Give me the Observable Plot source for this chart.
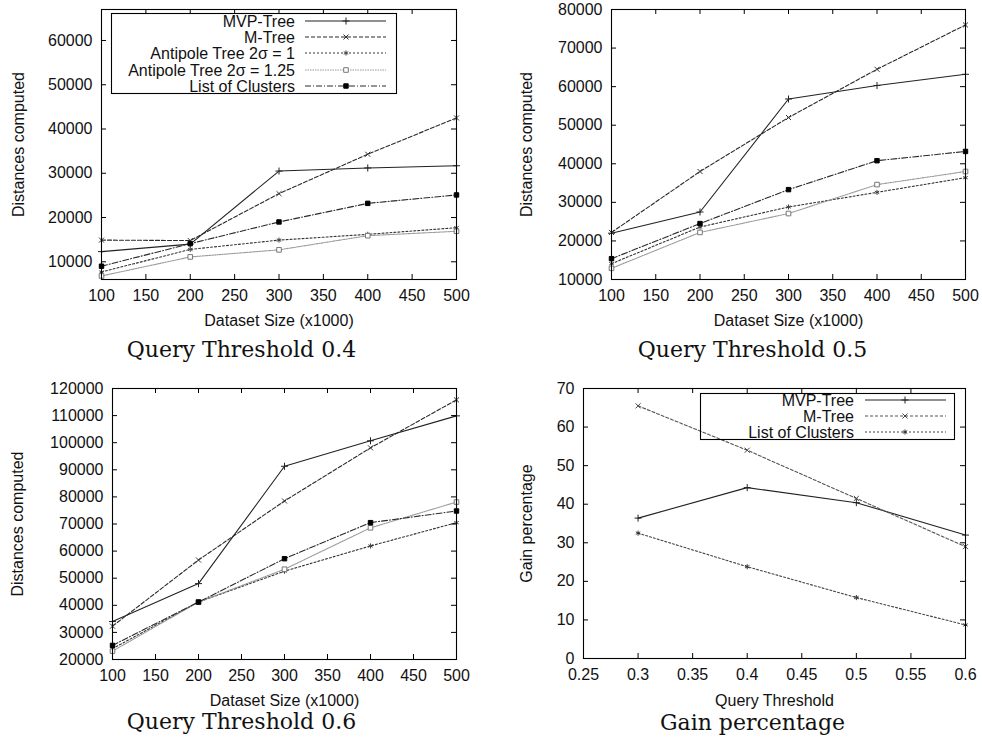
<!DOCTYPE html>
<html><head><meta charset="utf-8">
<script src="https://cdn.jsdelivr.net/npm/d3@7"></script>
<script src="https://cdn.jsdelivr.net/npm/@observablehq/plot@0.6"></script>
<style>
body{margin:0;background:#fff;}
#root{position:relative;width:982px;height:744px;overflow:hidden;background:#fff;font-family:"Liberation Sans",Arial,sans-serif;}
.panel{position:absolute;}
.cap{position:absolute;width:491px;text-align:center;font-family:"DejaVu Serif",serif;font-size:22px;line-height:22px;color:#111;}
.legend{position:absolute;overflow:visible;}
</style></head><body><div id="root"></div>
<script>
// ---------------- data ----------------
const sizes = [100, 200, 300, 400, 500];
const thresholds = [0.3, 0.4, 0.5, 0.6];
const seriesNames = ["MVP-Tree", "M-Tree", "Antipole Tree 2σ = 1", "Antipole Tree 2σ = 1.25", "List of Clusters"];
const gainNames = ["MVP-Tree", "M-Tree", "List of Clusters"];

const q04MVP     = [12300, 14000, 30500, 31200, 31700];
const q04MTree   = [14900, 14800, 25400, 34300, 42500];
const q04Anti1   = [7700, 12800, 14900, 16200, 17700];
const q04Anti125 = [6800, 11100, 12700, 15900, 16900];
const q04LoC     = [9000, 14100, 19000, 23200, 25100];

const q05MVP     = [22000, 27500, 56800, 60300, 63200];
const q05MTree   = [22200, 38000, 52000, 64500, 76000];
const q05Anti1   = [14100, 23600, 28800, 32600, 36400];
const q05Anti125 = [12900, 22200, 27100, 34600, 38000];
const q05LoC     = [15400, 24500, 33300, 40800, 43200];

const q06MVP     = [34000, 48000, 91300, 100700, 109900];
const q06MTree   = [32300, 56700, 78500, 98100, 115800];
const q06Anti1   = [24000, 41200, 52600, 61900, 70500];
const q06Anti125 = [23100, 41200, 53300, 68600, 78100];
const q06LoC     = [25200, 41200, 57200, 70500, 74800];

const gainMVP   = [36.4, 44.3, 40.4, 32.0];
const gainMTree = [65.5, 54.0, 41.5, 29.0];
const gainLoC   = [32.5, 23.8, 15.8, 8.7];

const sizeTicks  = [100, 150, 200, 250, 300, 350, 400, 450, 500];
const q04Ticks   = [10000, 20000, 30000, 40000, 50000, 60000];
const q05Ticks   = [10000, 20000, 30000, 40000, 50000, 60000, 70000, 80000];
const q06Ticks   = [20000, 30000, 40000, 50000, 60000, 70000, 80000, 90000, 100000, 110000, 120000];
const gainXTicks = [0.25, 0.3, 0.35, 0.4, 0.45, 0.5, 0.55, 0.6];
const gainYTicks = [0, 10, 20, 30, 40, 50, 60, 70];

const captions = ["Query Threshold 0.4", "Query Threshold 0.5", "Query Threshold 0.6", "Gain percentage"];

// ---------------- styles ----------------
const distStyles = [
  {stroke: "#222",    dash: null,      symbol: "plus",     fill: "none",    mstroke: "#222", r: 2.4},
  {stroke: "#2a2a2a", dash: "4,2",     symbol: "times",    fill: "none",    mstroke: "#333", r: 2.4},
  {stroke: "#333",    dash: "2,2",     symbol: "asterisk", fill: "none",    mstroke: "#444", r: 2.4},
  {stroke: "#999",    dash: "1.5,1",   symbol: "square",   fill: "white",   mstroke: "#777", r: 2.6},
  {stroke: "#2a2a2a", dash: "6,2,1,2", symbol: "square",   fill: "#000",    mstroke: "#000", r: 2.5}
];
const gainStyles = [
  {stroke: "#222", dash: null,  symbol: "plus",     fill: "none", mstroke: "#222", r: 2.4},
  {stroke: "#555", dash: "3,2", symbol: "times",    fill: "none", mstroke: "#444", r: 2.4},
  {stroke: "#444", dash: "2,2", symbol: "asterisk", fill: "none", mstroke: "#333", r: 2.4}
];

const root = document.getElementById("root");
const fmtInt = d3.format("d");
const fmtG = d3.format("~g");

function buildPanel(cfg) {
  const W = cfg.width - cfg.ml - cfg.mr;
  const H = cfg.height - cfg.mt - cfg.mb;
  const marks = [];
  cfg.series.forEach((vals, i) => {
    const st = cfg.styles[i];
    const rows = cfg.xs.map((x, j) => ({x, y: vals[j]}));
    marks.push(Plot.line(rows, {x: "x", y: "y", stroke: st.stroke, strokeWidth: 1.1, strokeDasharray: st.dash || undefined}));
    marks.push(Plot.dot(rows, {x: "x", y: "y", symbol: st.symbol, r: st.r, fill: st.fill, stroke: st.mstroke, strokeWidth: 1}));
  });
  marks.push(
    Plot.ruleX(cfg.xTicks, {x: d => d, insetTop: H - 5, stroke: "#000"}),
    Plot.ruleX(cfg.xTicks, {x: d => d, insetBottom: H - 5, stroke: "#000"}),
    Plot.ruleY(cfg.yTicks, {y: d => d, insetRight: W - 5, stroke: "#000"}),
    Plot.ruleY(cfg.yTicks, {y: d => d, insetLeft: W - 5, stroke: "#000"}),
    Plot.frame({stroke: "#000", strokeWidth: 1.1}),
    Plot.axisX({ticks: cfg.xTicks, tickSize: 0, tickPadding: 10, tickFormat: cfg.xFmt, label: null, fontSize: 16, fill: "#111"}),
    Plot.axisY({ticks: cfg.yTicks, tickSize: 0, tickPadding: 9, tickFormat: fmtInt, label: null, fontSize: 16, fill: "#111"}),
    Plot.text([cfg.xlabel], {text: d => d, frameAnchor: "bottom", dy: cfg.xlDy, lineAnchor: "middle", textAnchor: "middle", fontSize: 16, fill: "#111"}),
    Plot.text([cfg.ylabel], {text: d => d, frameAnchor: "left", dx: cfg.ylDx, rotate: -90, lineAnchor: "middle", textAnchor: "middle", fontSize: 16, fill: "#111"})
  );
  const svg = Plot.plot({
    width: cfg.width, height: cfg.height,
    marginLeft: cfg.ml, marginRight: cfg.mr, marginTop: cfg.mt, marginBottom: cfg.mb,
    x: {domain: cfg.xDomain, axis: null},
    y: {domain: cfg.yDomain, axis: null},
    style: {fontFamily: "'Liberation Sans', Arial, sans-serif", fontSize: "16px", background: "transparent", overflow: "visible", color: "#111"},
    marks
  });
  svg.classList.add("panel");
  svg.style.left = cfg.left + "px";
  svg.style.top = cfg.top + "px";
  root.appendChild(svg);

  const cap = document.createElement("div");
  cap.className = "cap";
  cap.textContent = cfg.caption;
  cap.style.left = cfg.capLeft + "px";
  cap.style.top = cfg.capTop + "px";
  root.appendChild(cap);
}

function buildLegend(cfg) {
  const svg = d3.create("svg").attr("class", "legend")
    .attr("width", cfg.w).attr("height", cfg.h)
    .style("left", cfg.left + "px").style("top", cfg.top + "px");
  svg.append("rect").attr("x", 0.5).attr("y", 0.5).attr("width", cfg.w - 1).attr("height", cfg.h - 1)
    .attr("fill", "none").attr("stroke", "#000").attr("stroke-width", 1.1);
  const symMap = {plus: d3.symbolPlus, times: d3.symbolTimes, asterisk: d3.symbolAsterisk, square: d3.symbolSquare};
  cfg.names.forEach((name, i) => {
    const st = cfg.styles[i];
    const y = cfg.rows[i];
    svg.append("text").attr("x", cfg.textRight).attr("y", y).attr("dy", "0.35em")
      .attr("text-anchor", "end").attr("font-size", 16)
      .attr("font-family", "'Liberation Sans', Arial, sans-serif").attr("fill", "#111").text(name);
    svg.append("line").attr("x1", cfg.lineX1).attr("x2", cfg.lineX2).attr("y1", y).attr("y2", y)
      .attr("stroke", st.stroke).attr("stroke-width", 1.1).attr("stroke-dasharray", st.dash || null);
    svg.append("path").attr("transform", `translate(${cfg.markX},${y})`)
      .attr("d", d3.symbol(symMap[st.symbol], Math.PI * st.r * st.r)())
      .attr("fill", st.fill).attr("stroke", st.mstroke);
  });
  root.appendChild(svg.node());
}

const distXlabel = "Dataset Size (x1000)";
const distYlabel = "Distances computed";

buildPanel({left: 0, top: 0, width: 491, height: 340, ml: 101, mr: 35, mt: 9, mb: 61,
  xs: sizes, xDomain: [100, 500], yDomain: [6000, 67000], xTicks: sizeTicks, yTicks: q04Ticks, xFmt: fmtInt,
  series: [q04MVP, q04MTree, q04Anti1, q04Anti125, q04LoC], styles: distStyles,
  xlabel: distXlabel, ylabel: distYlabel, xlDy: 41, ylDx: -83,
  caption: captions[0], capLeft: -4, capTop: 339});

buildPanel({left: 491, top: 0, width: 491, height: 340, ml: 120, mr: 17, mt: 9, mb: 61,
  xs: sizes, xDomain: [100, 500], yDomain: [10000, 80000], xTicks: sizeTicks, yTicks: q05Ticks, xFmt: fmtInt,
  series: [q05MVP, q05MTree, q05Anti1, q05Anti125, q05LoC], styles: distStyles,
  xlabel: distXlabel, ylabel: distYlabel, xlDy: 41, ylDx: -85,
  caption: captions[1], capLeft: 507, capTop: 339});

buildPanel({left: 0, top: 372, width: 491, height: 340, ml: 112, mr: 35, mt: 16, mb: 53,
  xs: sizes, xDomain: [100, 500], yDomain: [20000, 120000], xTicks: sizeTicks, yTicks: q06Ticks, xFmt: fmtInt,
  series: [q06MVP, q06MTree, q06Anti1, q06Anti125, q06LoC], styles: distStyles,
  xlabel: distXlabel, ylabel: distYlabel, xlDy: 41, ylDx: -95,
  caption: captions[2], capLeft: -4, capTop: 711});

buildPanel({left: 491, top: 372, width: 491, height: 340, ml: 92, mr: 17, mt: 16, mb: 54,
  xs: thresholds, xDomain: [0.25, 0.6], yDomain: [0, 70], xTicks: gainXTicks, yTicks: gainYTicks, xFmt: fmtG,
  series: [gainMVP, gainMTree, gainLoC], styles: gainStyles,
  xlabel: "Query Threshold", ylabel: "Gain percentage", xlDy: 42, ylDx: -57,
  caption: captions[3], capLeft: 507, capTop: 712});

buildLegend({left: 111, top: 13, w: 286, h: 81, names: seriesNames, styles: distStyles,
  rows: [8, 24, 40, 57, 73], textRight: 184, lineX1: 194, lineX2: 275, markX: 235});
buildLegend({left: 700, top: 393, w: 255, h: 47, names: gainNames, styles: gainStyles,
  rows: [7, 23, 39], textRight: 154, lineX1: 165, lineX2: 246, markX: 205});
</script></body></html>
